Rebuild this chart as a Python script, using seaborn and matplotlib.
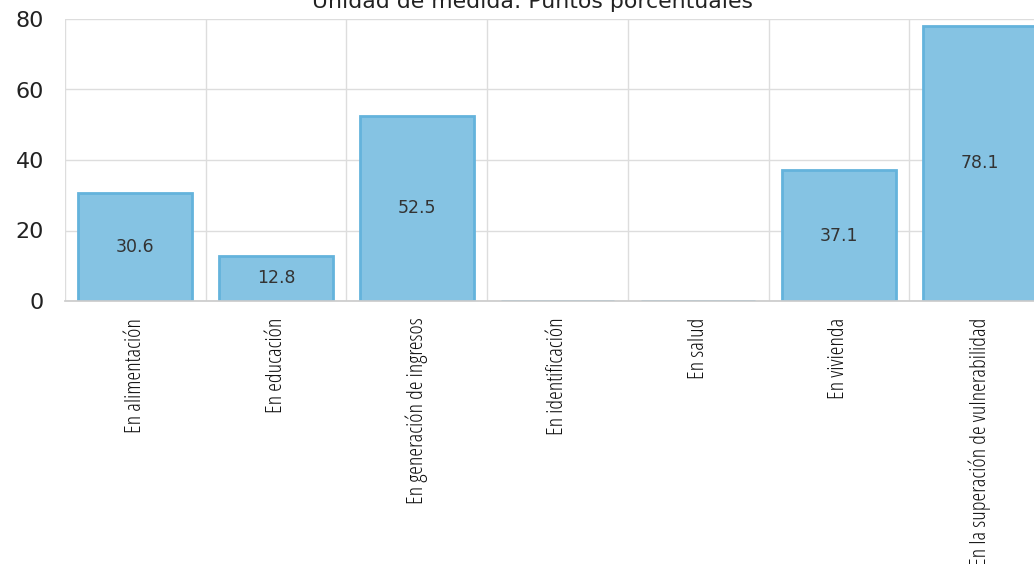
import matplotlib
matplotlib.use("Agg")
import numpy as np
import pandas as pd
import seaborn as sns
import matplotlib.pyplot as plt
from matplotlib.ticker import FixedLocator

# datos
categorias = ["En alimentación", "En educación", "En generación de ingresos",
              "En identificación", "En salud", "En vivienda",
              "En la superación de vulnerabilidad"]
valores = [30.6, 12.8, 52.5, 0.0, 0.0, 37.1, 78.1]
y_ticks = [0, 20, 40, 60, 80]
titulo = "Unidad de medida: Puntos porcentuales"

df = pd.DataFrame({"categoria": categorias, "valor": valores})

sns.set_theme(style="white")
plt.rcParams["font.family"] = ["DejaVu Sans"]

fig = plt.figure(figsize=(10.34, 5.64), dpi=100)
ax = fig.add_axes([65 / 1034, 263 / 564, 985 / 1034, 282 / 564])

sns.barplot(data=df, x="categoria", y="valor", ax=ax, width=0.81,
            color="#85c3e3", edgecolor="#64b3dc", linewidth=2, saturation=1)

ax.set_xlim(-0.5, len(categorias) - 0.5)
ax.set_ylim(0, 80)
ax.set_yticks(y_ticks)
ax.set_yticklabels([str(t) for t in y_ticks], fontsize=16, color="#222222")
ax.xaxis.set_minor_locator(FixedLocator(np.arange(-0.5, len(categorias), 1)))
ax.grid(axis="y", color="#dddddd", linewidth=1)
ax.grid(axis="x", which="minor", color="#dddddd", linewidth=1)
ax.grid(axis="x", which="major", visible=False)
ax.set_axisbelow(True)
ax.tick_params(axis="both", which="both", length=0)
ax.tick_params(axis="y", pad=15)
ax.tick_params(axis="x", pad=12)
ax.set_xticks(range(len(categorias)))
ax.set_xticklabels(categorias, rotation=90, fontsize=16, color="#111111",
                   family=["Open Sans", "DejaVu Sans"], fontstretch="condensed",
                   fontweight="light")
ax.set_xlabel("")
ax.set_ylabel("")
for s in ["top", "right", "left"]:
    ax.spines[s].set_visible(False)
ax.spines["bottom"].set_color("#cccccc")

for i, v in enumerate(valores):
    if v > 0:
        ax.text(i, v / 2, f"{v:.1f}", ha="center", va="center",
                fontsize=12.5, color="#333333")

fig.text(532 / 1034, 1 - 2 / 564, titulo, ha="center", va="center",
         fontsize=15.8, color="#222222")

fig.savefig("out.png", dpi=100)
